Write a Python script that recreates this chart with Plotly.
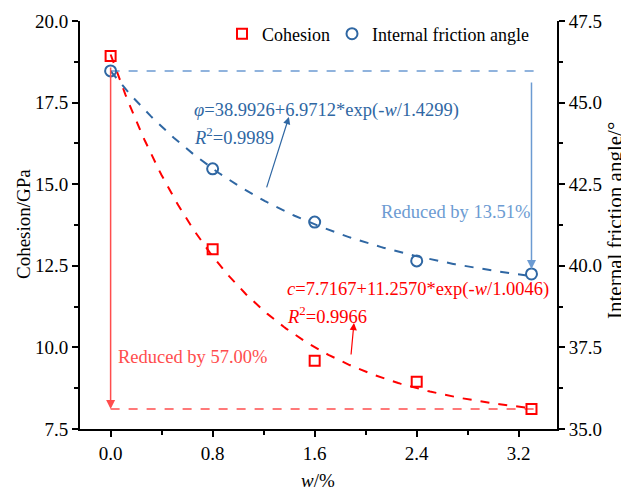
import numpy as np
import plotly.graph_objects as go

# ---- data ----
w = [0.0, 0.8, 1.6, 2.4, 3.3]
cohesion = [18.93, 13.01, 9.59, 8.95, 8.11]
friction = [45.97, 42.97, 41.34, 40.15, 39.75]

c_fit = [7.7167, 11.2570, 1.0046]     # c = a + b*exp(-w/t)
phi_fit = [38.9926, 6.9712, 1.4299]   # phi = a + b*exp(-w/t)

x_ticks = [0.0, 0.8, 1.6, 2.4, 3.2]
y1_ticks = [7.5, 10.0, 12.5, 15.0, 17.5, 20.0]
y2_ticks = [35.0, 37.5, 40.0, 42.5, 45.0, 47.5]

RED = "#ff0000"
LRED = "#ff4d4d"
BLUE = "#2f67a3"
LBLUE = "#6c9bd2"
FONT = "Liberation Serif"
AS = 18.5  # annotation font size

wf = np.linspace(w[0], w[-1], 200)
c_curve = c_fit[0] + c_fit[1] * np.exp(-wf / c_fit[2])
phi_curve = phi_fit[0] + phi_fit[1] * np.exp(-wf / phi_fit[2])

fig = go.Figure()

# reference dashed lines
fig.add_trace(go.Scatter(x=[w[0], w[-1] + 0.05], y=[cohesion[-1], cohesion[-1]], mode="lines",
                         line=dict(color=LRED, width=1.5, dash="dash"), showlegend=False, hoverinfo="skip"))
fig.add_trace(go.Scatter(x=[w[0], w[-1] + 0.05], y=[friction[0], friction[0]], mode="lines", yaxis="y2",
                         line=dict(color=LBLUE, width=1.5, dash="dash"), showlegend=False, hoverinfo="skip"))

# fit curves
fig.add_trace(go.Scatter(x=wf, y=c_curve, mode="lines", line=dict(color=RED, width=2, dash="dash"),
                         showlegend=False, hoverinfo="skip"))
fig.add_trace(go.Scatter(x=wf, y=phi_curve, mode="lines", yaxis="y2",
                         line=dict(color=BLUE, width=2, dash="dash"), showlegend=False, hoverinfo="skip"))

# markers
fig.add_trace(go.Scatter(x=w, y=cohesion, mode="markers", name="Cohesion", legend="legend",
                         marker=dict(symbol="square-open", size=10, color=RED, line=dict(width=2, color=RED))))
fig.add_trace(go.Scatter(x=w, y=friction, mode="markers", name="Internal friction angle", yaxis="y2",
                         legend="legend2",
                         marker=dict(symbol="circle-open", size=11, color=BLUE, line=dict(width=2, color=BLUE))))

ann = []
# vertical reduction arrows
ann.append(dict(x=w[0], y=cohesion[-1], ax=w[0], ay=cohesion[0], xref="x", yref="y", axref="x", ayref="y",
                showarrow=True, arrowhead=2, arrowsize=1.2, arrowwidth=1.5, arrowcolor=LRED, text=" "))
ann.append(dict(x=w[-1], y=friction[-1] + 0.15, ax=w[-1], ay=friction[0], xref="x", yref="y2", axref="x", ayref="y2",
                showarrow=True, arrowhead=2, arrowsize=1.2, arrowwidth=1.5, arrowcolor=LBLUE, text=" "))
# fit label arrows
ann.append(dict(x=1.398, y=44.56, ax=1.195, ay=42.05, xref="x", yref="y2", axref="x", ayref="y2",
                showarrow=True, arrowhead=2, arrowsize=1.2, arrowwidth=1.2, arrowcolor=BLUE, text=" "))
ann.append(dict(x=1.908, y=10.75, ax=1.877, ay=9.43, xref="x", yref="y", axref="x", ayref="y",
                showarrow=True, arrowhead=2, arrowsize=1.2, arrowwidth=1.2, arrowcolor=RED, text=" "))

# texts
ann.append(dict(x=0.64, y=44.77, xref="x", yref="y2", xanchor="left", yanchor="middle", showarrow=False,
                text="<i>φ</i>=38.9926+6.9712*exp(-<i>w</i>/1.4299)", font=dict(family=FONT, size=AS, color=BLUE)))
ann.append(dict(x=0.64, y=43.97, xref="x", yref="y2", xanchor="left", yanchor="middle", showarrow=False,
                text="<i>R</i><sup>2</sup>=0.9989", font=dict(family=FONT, size=AS, color=BLUE)))
ann.append(dict(x=1.37, y=11.76, xref="x", yref="y", xanchor="left", yanchor="middle", showarrow=False,
                text="<i>c</i>=7.7167+11.2570*exp(-<i>w</i>/1.0046)", font=dict(family=FONT, size=AS, color=RED)))
ann.append(dict(x=1.37, y=10.99, xref="x", yref="y", xanchor="left", yanchor="middle", showarrow=False,
                text="<i>R</i><sup>2</sup>=0.9966", font=dict(family=FONT, size=AS, color=RED)))
ann.append(dict(x=0.042, y=9.71, xref="x", yref="y", xanchor="left", yanchor="middle", showarrow=False,
                text="Reduced by 57.00%", font=dict(family=FONT, size=AS, color=LRED)))
ann.append(dict(x=2.104, y=14.15, xref="x", yref="y", xanchor="left", yanchor="middle", showarrow=False,
                text="Reduced by 13.51%", font=dict(family=FONT, size=AS, color=LBLUE)))

# page offset (body margin) compensation; positions below are in page pixels
OFF = 8
W, H = 629 - OFF, 491 - OFF
PL, PR, PT, PB = 80, 557, 21, 429  # plot area in page pixels
def px(xp):
    return (xp - PL) / (PR - PL)
def py(yp):
    return (PB - yp) / (PB - PT)

ann.append(dict(x=px(23), y=py(224), xref="paper", yref="paper", xanchor="center", yanchor="middle",
                showarrow=False, textangle=-90, text="Cohesion/GPa", font=dict(family=FONT, size=19)))
ann.append(dict(x=px(615), y=py(221), xref="paper", yref="paper", xanchor="center", yanchor="middle",
                showarrow=False, textangle=-90, text="Internal friction angle/°", font=dict(family=FONT, size=21)))
ann.append(dict(x=px(318), y=py(480), xref="paper", yref="paper", xanchor="center", yanchor="middle",
                showarrow=False, text="<i>w</i>/%", font=dict(family=FONT, size=19)))

axis_common = dict(showline=True, linecolor="black", linewidth=2, ticks="outside", ticklen=6, tickwidth=2,
                   tickcolor="black", showgrid=False, zeroline=False, automargin=False,
                   tickfont=dict(family=FONT, size=19, color="black"))

def minor(vals):
    return dict(ticks="outside", ticklen=4, tickwidth=2, tickcolor="black", tickvals=vals, showgrid=False)

fig.update_layout(
    width=W, height=H,
    margin=dict(l=PL - OFF, r=W - (PR - OFF), t=PT - OFF, b=H - (PB - OFF), autoexpand=False),
    plot_bgcolor="white", paper_bgcolor="white",
    font=dict(family=FONT, size=18, color="black"),
    xaxis=dict(range=[-0.24, 3.5], tickvals=x_ticks, ticktext=[f"{v:.1f}" for v in x_ticks],
               minor=minor([0.4, 1.2, 2.0, 2.8]), **axis_common),
    yaxis=dict(range=[7.5, 20.0], tickvals=y1_ticks, ticktext=[f"{v:.1f}" for v in y1_ticks],
               minor=minor([8.75, 11.25, 13.75, 16.25, 18.75]), **axis_common),
    yaxis2=dict(range=[35.0, 47.5], tickvals=y2_ticks, ticktext=[f"{v:.1f}" for v in y2_ticks],
                overlaying="y", side="right", anchor="x",
                minor=minor([36.25, 38.75, 41.25, 43.75, 46.25]), **axis_common),
    legend=dict(x=px(222), y=py(34), xanchor="left", yanchor="middle",
                bgcolor="rgba(0,0,0,0)", font=dict(family=FONT, size=18), itemwidth=30),
    legend2=dict(x=px(332), y=py(34), xanchor="left", yanchor="middle",
                 bgcolor="rgba(0,0,0,0)", font=dict(family=FONT, size=18), itemwidth=30),
    annotations=ann,
)

fig.write_html("out.html")
